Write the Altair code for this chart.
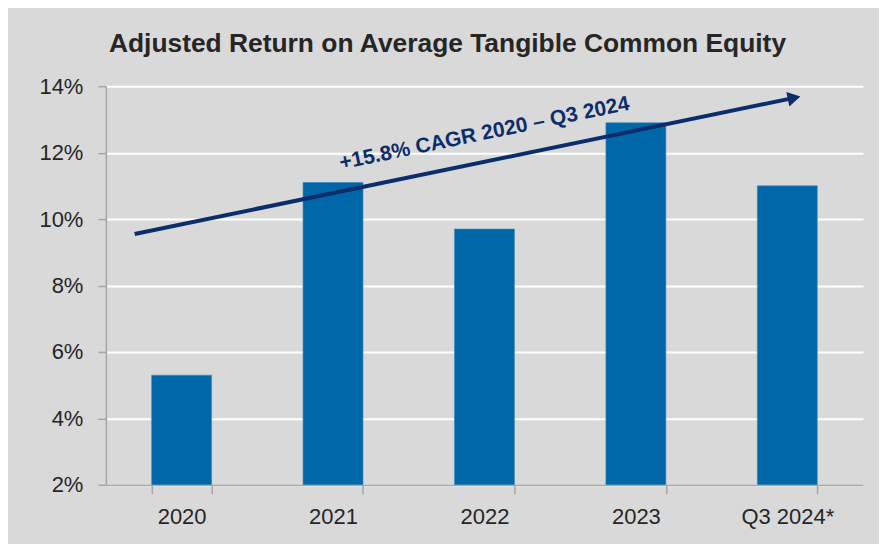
import altair as alt
import pandas as pd

# ---- data ----
categories = ["2020", "2021", "2022", "2023", "Q3 2024*"]
roe_values = [0.053, 0.111, 0.097, 0.129, 0.110]

# trend arrow annotation (position in category units 0..5, value on the y scale)
trend_pos = [0.19, 4.545]
trend_val = [0.0955, 0.1365]
trend_label = ["+15.8% CAGR 2020 \u2013 Q3 2024"]
label_pos = [2.5]
label_val = [0.1257]

y_ticks = [0.02, 0.04, 0.06, 0.08, 0.10, 0.12, 0.14]

bars_df = pd.DataFrame({"category": categories, "value": roe_values})
trend_df = pd.DataFrame({"pos": trend_pos, "val": trend_val})
head_df = pd.DataFrame({"pos": trend_pos[-1:], "val": trend_val[-1:]})
label_df = pd.DataFrame({"pos": label_pos, "val": label_val, "text": trend_label})

FONT = "Liberation Sans"
TEXT_COLOR = "#262626"
AXIS_GRAY = "#a6a6a6"
BAR_BLUE = "#0067a9"
ARROW_NAVY = "#0b2d6b"
ANGLE = 348.3

yscale = alt.Scale(domain=[0.02, 0.14], nice=False, zero=False)
xq = alt.Scale(domain=[0, 5], nice=False, zero=False)

bars = alt.Chart(bars_df).mark_bar(
    color=BAR_BLUE, stroke="#3f86bf", strokeWidth=0.6, clip=True
).encode(
    x=alt.X(
        "category:N",
        sort=categories,
        title=None,
        scale=alt.Scale(paddingInner=0.604, paddingOuter=0.302),
        axis=alt.Axis(
            labelAngle=0,
            tickBand="extent",
            domainColor=AXIS_GRAY,
            domainWidth=1.5,
            tickColor=AXIS_GRAY,
            tickWidth=1.5,
            tickSize=9,
            labelPadding=13,
            labelFontSize=22,
            labelFont=FONT,
            labelColor=TEXT_COLOR,
            grid=False,
        ),
    ),
    y=alt.Y(
        "value:Q",
        title=None,
        scale=yscale,
        axis=alt.Axis(
            values=y_ticks,
            format=".0%",
            grid=True,
            gridColor="white",
            gridWidth=2,
            domainColor=AXIS_GRAY,
            domainWidth=1.5,
            tickColor=AXIS_GRAY,
            tickWidth=1.5,
            tickSize=8,
            labelPadding=15,
            labelFontSize=22,
            labelFont=FONT,
            labelColor=TEXT_COLOR,
        ),
    ),
)

trend = alt.Chart(trend_df).mark_line(color=ARROW_NAVY, strokeWidth=4).encode(
    x=alt.X("pos:Q", scale=xq, axis=None),
    y=alt.Y("val:Q", scale=yscale, title=None),
)

head = alt.Chart(head_df).mark_point(
    shape="triangle-right", filled=True, color=ARROW_NAVY, opacity=1, size=220, angle=ANGLE
).encode(
    x=alt.X("pos:Q", scale=xq, axis=None),
    y=alt.Y("val:Q", scale=yscale, title=None),
)

label = alt.Chart(label_df).mark_text(
    font=FONT, fontSize=21, fontWeight="bold", color=ARROW_NAVY,
    angle=ANGLE, align="center", baseline="middle",
).encode(
    x=alt.X("pos:Q", scale=xq, axis=None),
    y=alt.Y("val:Q", scale=yscale, title=None),
    text="text:N",
)

chart = (
    alt.layer(bars, trend, head, label)
    .resolve_scale(x="independent")
    .properties(
        width=758,
        height=399,
        title=alt.TitleParams(
            "Adjusted Return on Average Tangible Common Equity",
            font=FONT,
            fontSize=26.4,
            fontWeight="bold",
            color=TEXT_COLOR,
            anchor="middle",
            dx=-37,
            offset=18,
        ),
        padding={"left": 30, "top": 22, "right": 16, "bottom": 16},
        background="#d9d9d9",
    )
    .configure_view(stroke=None)
)

chart.save("out.html", embed_options={"renderer": "svg", "actions": False})
